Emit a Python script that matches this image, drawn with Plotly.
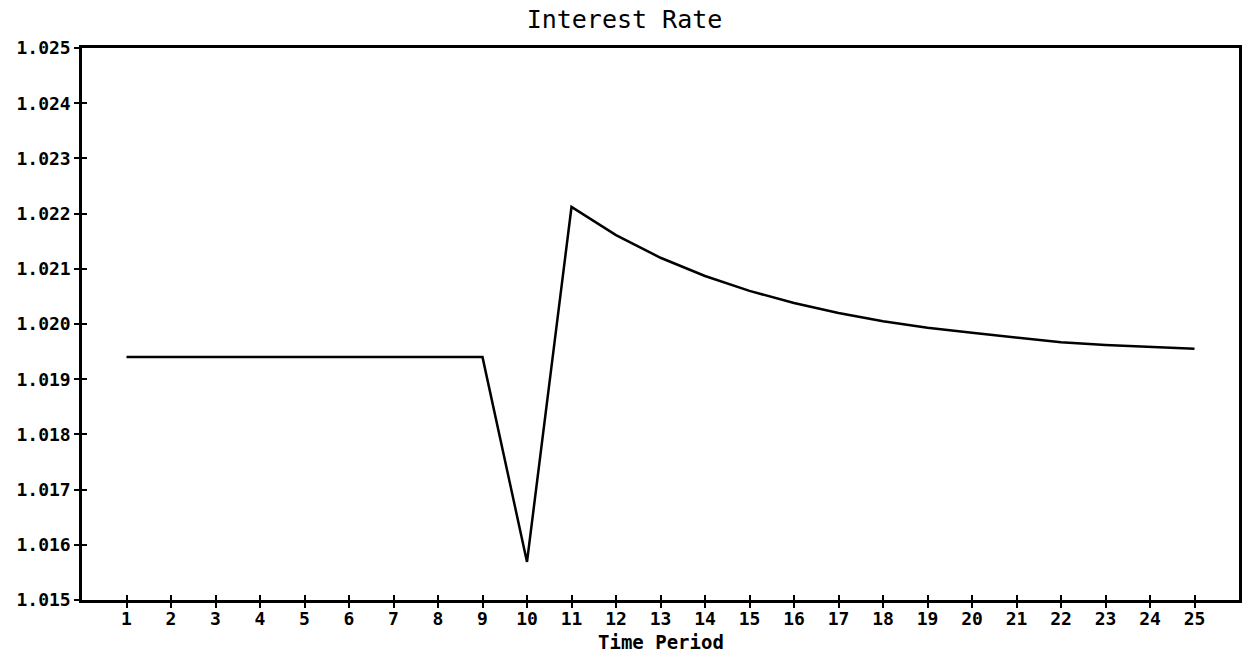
import plotly.graph_objects as go

periods = list(range(1, 26))
interest_rate = [1.01940, 1.01940, 1.01940, 1.01940, 1.01940, 1.01940, 1.01940, 1.01940, 1.01940,
                 1.01569, 1.02212, 1.02161, 1.02120, 1.02087, 1.02060, 1.02038, 1.02020,
                 1.02005, 1.01993, 1.01984, 1.01975, 1.01967, 1.01962, 1.01958, 1.01955]
y_ticks = [1.015, 1.016, 1.017, 1.018, 1.019, 1.020, 1.021, 1.022, 1.023, 1.024, 1.025]
x_ticks = list(range(1, 26))

FONT = "DejaVu Sans Mono"

fig = go.Figure()
fig.add_trace(go.Scatter(x=periods, y=interest_rate, mode="lines",
                         line=dict(color="black", width=2.5), showlegend=False))
# invisible trace for overlay axes (inside ticks to make "+" crossings)
fig.add_trace(go.Scatter(x=periods, y=interest_rate, mode="lines", xaxis="x2", yaxis="y2",
                         line=dict(color="rgba(0,0,0,0)", width=0), showlegend=False,
                         hoverinfo="skip"))

axis_common = dict(showgrid=False, zeroline=False, linecolor="black", linewidth=2.5,
                   ticks="outside", ticklen=5, tickwidth=2, tickcolor="black",
                   automargin=False)

fig.update_layout(
    width=1249, height=660,
    margin=dict(l=82, r=10, t=48, b=60),
    paper_bgcolor="white", plot_bgcolor="white",
    title=dict(text="Interest Rate", x=0.5, xanchor="center", y=1 - 19 / 660, yanchor="middle",
               font=dict(family=FONT, size=25, color="black")),
    xaxis=dict(range=[0, 26], tickvals=x_ticks, ticktext=[str(t) for t in x_ticks],
               mirror=True, showline=True, ticklabelstandoff=-4,
               tickfont=dict(family=FONT, size=18, color="black", weight="bold"),
               **axis_common),
    yaxis=dict(range=[1.015, 1.025], tickvals=y_ticks, tickformat=".3f",
               mirror=True, showline=True,
               tickfont=dict(family=FONT, size=18, color="black", weight="bold"),
               **axis_common),
    xaxis2=dict(range=[0, 26], tickvals=x_ticks, overlaying="x", showticklabels=False,
                showgrid=False, zeroline=False, showline=False, ticks="inside", ticklen=5,
                tickwidth=2, tickcolor="black"),
    yaxis2=dict(range=[1.015, 1.025], tickvals=y_ticks, overlaying="y", showticklabels=False,
                showgrid=False, zeroline=False, showline=False, ticks="inside", ticklen=5,
                tickwidth=2, tickcolor="black"),
    annotations=[dict(text="Time Period", xref="paper", yref="paper", x=0.5, y=0,
                      xanchor="center", yanchor="middle", yshift=-42, showarrow=False,
                      font=dict(family=FONT, size=19, color="black", weight="bold"))],
)

fig.write_html("out.html", config={"displayModeBar": False},
               post_script="document.body.style.margin='0';")
